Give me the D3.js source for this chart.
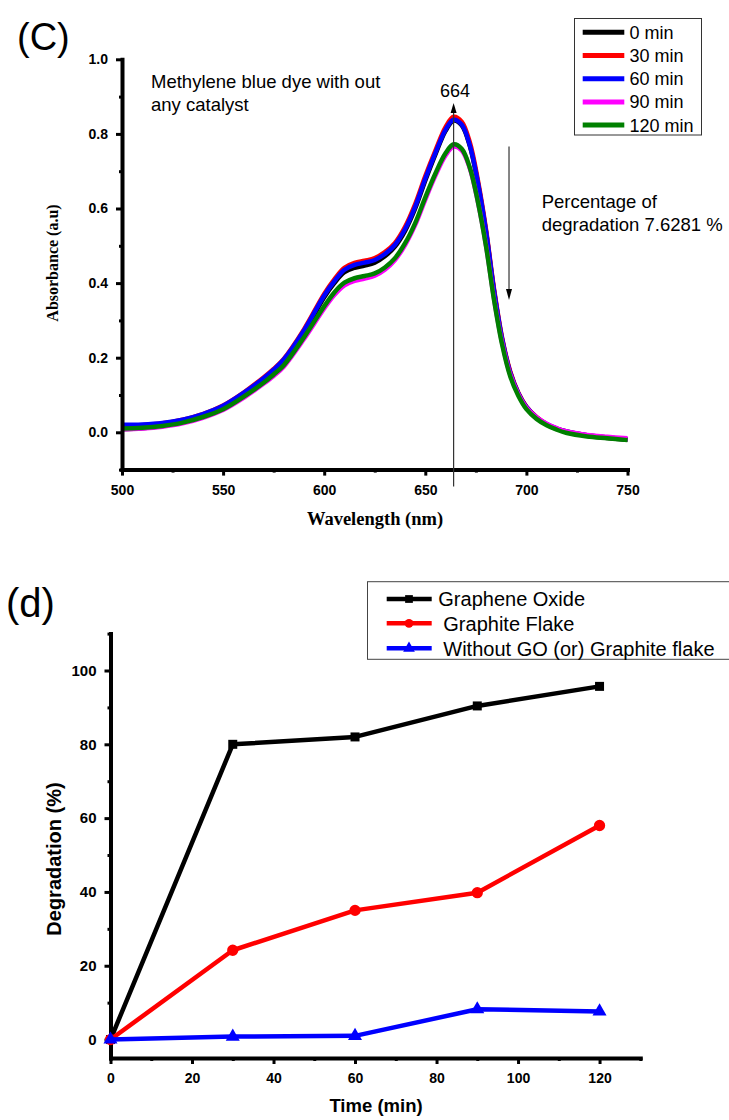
<!DOCTYPE html>
<html><head><meta charset="utf-8">
<script src="https://cdn.jsdelivr.net/npm/d3@7"></script>
<style>body{margin:0;background:#fff} svg{display:block}</style>
</head><body>
<svg id="c" width="729" height="1120"></svg>
<script>
// ---------- Panel (C): UV-vis spectra ----------
const wavelengths = [500,510,520,530,540,550,560,570,575,580,590,600,605,610,615,620,625,630,635,640,645,650,655,660,664,668,672,676,680,684,688,692,696,700,705,710,715,720,730,740,750];
const abs0min   = [0.008,0.011,0.017,0.027,0.043,0.066,0.100,0.141,0.164,0.190,0.268,0.362,0.400,0.429,0.441,0.447,0.455,0.472,0.498,0.540,0.600,0.675,0.745,0.808,0.836,0.823,0.768,0.668,0.538,0.378,0.248,0.160,0.104,0.067,0.039,0.021,0.009,0.001,-0.009,-0.015,-0.020];
const abs30min  = [0.017,0.019,0.024,0.034,0.049,0.072,0.106,0.147,0.170,0.197,0.276,0.371,0.410,0.441,0.454,0.460,0.467,0.483,0.508,0.551,0.612,0.687,0.755,0.818,0.846,0.833,0.778,0.676,0.545,0.384,0.253,0.163,0.106,0.069,0.041,0.022,0.010,0.002,-0.008,-0.014,-0.019];
const abs60min  = [0.020,0.021,0.025,0.034,0.049,0.071,0.105,0.145,0.168,0.195,0.273,0.367,0.405,0.436,0.449,0.455,0.462,0.478,0.503,0.545,0.605,0.680,0.749,0.811,0.838,0.825,0.770,0.670,0.540,0.380,0.250,0.160,0.105,0.068,0.040,0.022,0.010,0.002,-0.008,-0.014,-0.019];
const abs90min  = [0.008,0.010,0.015,0.024,0.039,0.060,0.092,0.130,0.151,0.176,0.250,0.332,0.368,0.394,0.406,0.412,0.420,0.436,0.462,0.502,0.556,0.624,0.688,0.742,0.766,0.756,0.708,0.618,0.502,0.358,0.240,0.155,0.102,0.066,0.040,0.023,0.011,0.002,-0.007,-0.012,-0.016];
const abs120min = [0.010,0.012,0.017,0.026,0.041,0.062,0.095,0.133,0.155,0.180,0.255,0.338,0.375,0.401,0.413,0.419,0.426,0.442,0.467,0.507,0.561,0.630,0.694,0.748,0.772,0.760,0.710,0.618,0.500,0.355,0.235,0.150,0.098,0.062,0.036,0.019,0.007,-0.002,-0.011,-0.016,-0.021];
const spectraNames  = ["0 min","30 min","60 min","90 min","120 min"];
const spectraColors = ["#000000","#ff0000","#0000ff","#ff00ff","#008000"];
const xTicksTop = [500,550,600,650,700,750];
const xMinorTop = [525,575,625,675,725];
const yTicksTop = [0.0,0.2,0.4,0.6,0.8,1.0];
const yMinorTop = [-0.1,0.1,0.3,0.5,0.7,0.9];
const peakWavelength = 664;
const peakLineRange = [0.856,-0.145];
const degradationArrow = {wl:691.4, from:0.766, to:0.355};

// ---------- Panel (d): degradation vs time ----------
const times = [0,30,60,90,120];
const degGO   = [0,80.0,82.0,90.4,95.7];
const degGF   = [0,24.2,35.0,39.8,58.0];
const degNone = [0,0.8,1.0,8.2,7.63];
const degNames  = ["Graphene Oxide","Graphite Flake","Without GO (or) Graphite flake"];
const degColors = ["#000000","#ff0000","#0000ff"];
const degSymbols = [d3.symbolSquare, d3.symbolCircle, d3.symbolTriangle];
const xTicksBottom = [0,20,40,60,80,100,120];
const xMinorBottom = [10,30,50,70,90,110,130];
const yTicksBottom = [0,20,40,60,80,100];
const yMinorBottom = [10,30,50,70,90,110];

const SANS = "'Liberation Sans', Arial, Helvetica, sans-serif";
const SERIF = "'Liberation Serif', 'Times New Roman', serif";
const svg = d3.select("#c");

function styleAxis(g, fs){
  g.select(".domain").attr("stroke","#000").attr("stroke-width",4).attr("stroke-linecap","square");
  g.selectAll(".tick line").attr("stroke","#000").attr("stroke-width",3);
  g.selectAll(".tick text").attr("fill","#000").attr("font-family",SANS)
    .attr("font-weight","bold").attr("font-size",fs);
}

// ======== TOP PANEL ========
const x1 = d3.scaleLinear().domain([500,750]).range([122,627.5]);
const y1 = d3.scaleLinear().domain([-0.1,1.0]).range([469.6,59.3]);
const topG = svg.append("g");

const spectra = [abs0min,abs30min,abs60min,abs90min,abs120min];
const line1 = d3.line().x(d=>x1(d[0])).y(d=>y1(d[1])).curve(d3.curveCatmullRom.alpha(0.5));
spectra.forEach((s,i)=>{
  topG.append("path").datum(wavelengths.map((w,j)=>[w,s[j]]))
    .attr("d",line1).attr("fill","none").attr("stroke",spectraColors[i])
    .attr("stroke-width",4.5).attr("stroke-linejoin","round");
});

// axes
const gx1 = topG.append("g").attr("transform",`translate(0,${y1(-0.1)})`)
  .call(d3.axisBottom(x1).tickValues(xTicksTop).tickSize(6).tickSizeOuter(0).tickPadding(8).tickFormat(d3.format("d")));
styleAxis(gx1,14);
gx1.selectAll(".tick text").attr("y",25).attr("dy",0);
topG.append("g").attr("transform",`translate(0,${y1(-0.1)})`)
  .call(d3.axisBottom(x1).tickValues(xMinorTop).tickSize(3).tickFormat(""))
  .call(g=>{g.select(".domain").remove();g.selectAll(".tick line").attr("stroke","#000").attr("stroke-width",3);});
const gy1 = topG.append("g").attr("transform",`translate(${x1(500)},0)`)
  .call(d3.axisLeft(y1).tickValues(yTicksTop).tickSize(6).tickSizeOuter(0).tickPadding(8).tickFormat(d3.format(".1f")));
styleAxis(gy1,14);
topG.append("g").attr("transform",`translate(${x1(500)},0)`)
  .call(d3.axisLeft(y1).tickValues(yMinorTop).tickSize(3).tickFormat(""))
  .call(g=>{g.select(".domain").remove();g.selectAll(".tick line").attr("stroke","#000").attr("stroke-width",3);});

// axis titles
topG.append("text").attr("x",375).attr("y",525).attr("text-anchor","middle")
  .attr("font-family",SERIF).attr("font-weight","bold").attr("font-size",18.5).text("Wavelength (nm)");
topG.append("text").attr("transform","translate(58,263) rotate(-90)").attr("text-anchor","middle")
  .attr("font-family",SERIF).attr("font-weight","bold").attr("font-size",16).text("Absorbance (a.u)");

// peak line + arrow
const px = x1(peakWavelength);
topG.append("line").attr("x1",px).attr("x2",px).attr("y1",y1(peakLineRange[0])).attr("y2",y1(peakLineRange[1]))
  .attr("stroke","#333").attr("stroke-width",1.2);
const ptop = y1(peakLineRange[0]);
topG.append("path").attr("d",`M${px},${ptop-10} L${px-3},${ptop} L${px+3},${ptop} Z`).attr("fill","#000");
topG.append("text").attr("x",px+1.5).attr("y",96.7).attr("text-anchor","middle")
  .attr("font-family",SANS).attr("font-size",18).text(String(peakWavelength));

// degradation arrow
const ax = x1(degradationArrow.wl), ay0 = y1(degradationArrow.from), ay1 = y1(degradationArrow.to);
topG.append("line").attr("x1",ax).attr("x2",ax).attr("y1",ay0).attr("y2",ay1-9)
  .attr("stroke","#333").attr("stroke-width",1.2);
topG.append("path").attr("d",`M${ax},${ay1} L${ax-3},${ay1-11} L${ax+3},${ay1-11} Z`).attr("fill","#000");

// annotations text
const ann = topG.append("g").attr("font-family",SANS).attr("font-size",18.5).attr("fill","#000");
ann.append("text").attr("x",151).attr("y",88.3).text("Methylene blue dye with out");
ann.append("text").attr("x",151).attr("y",111).text("any catalyst");
ann.append("text").attr("x",541.7).attr("y",208.3).text("Percentage of");
ann.append("text").attr("x",541.7).attr("y",230.5).text("degradation 7.6281 %");
svg.append("text").attr("x",17).attr("y",50).attr("font-family",SANS).attr("font-size",38).text("(C)");

// legend top
const lg1 = topG.append("g");
lg1.append("rect").attr("x",574.5).attr("y",18.5).attr("width",127).attr("height",116.5)
  .attr("fill","#fff").attr("stroke","#333").attr("stroke-width",1);
spectraNames.forEach((n,i)=>{
  const yy = 32.3 + i*23.2;
  lg1.append("line").attr("x1",582.7).attr("x2",624.3).attr("y1",yy).attr("y2",yy)
    .attr("stroke",spectraColors[i]).attr("stroke-width",5);
  lg1.append("text").attr("x",629.5).attr("y",yy+6.5).attr("font-family",SANS).attr("font-size",18).text(n);
});

// ======== BOTTOM PANEL ========
const x2 = d3.scaleLinear().domain([0,130]).range([110.5,640.3]);
const y2 = d3.scaleLinear().domain([-5,110]).range([1058,633.6]);
const botG = svg.append("g");

const gx2 = botG.append("g").attr("transform",`translate(0,${y2(-5)})`)
  .call(d3.axisBottom(x2).tickValues(xTicksBottom).tickSize(6).tickSizeOuter(0).tickFormat(d3.format("d")));
styleAxis(gx2,14);
gx2.selectAll(".tick text").attr("y",24.5).attr("dy",0);
botG.append("g").attr("transform",`translate(0,${y2(-5)})`)
  .call(d3.axisBottom(x2).tickValues(xMinorBottom).tickSize(3).tickFormat(""))
  .call(g=>{g.select(".domain").remove();g.selectAll(".tick line").attr("stroke","#000").attr("stroke-width",3);});
const gy2 = botG.append("g").attr("transform",`translate(${x2(0)},0)`)
  .call(d3.axisLeft(y2).tickValues(yTicksBottom).tickSize(6).tickSizeOuter(0).tickPadding(8).tickFormat(d3.format("d")));
styleAxis(gy2,15);
botG.append("g").attr("transform",`translate(${x2(0)},0)`)
  .call(d3.axisLeft(y2).tickValues(yMinorBottom).tickSize(3).tickFormat(""))
  .call(g=>{g.select(".domain").remove();g.selectAll(".tick line").attr("stroke","#000").attr("stroke-width",3);});

const degSeries = [degGO,degGF,degNone];
const line2 = d3.line().x(d=>x2(d[0])).y(d=>y2(d[1]));
degSeries.forEach((s,i)=>{
  const pts = times.map((t,j)=>[t,s[j]]);
  botG.append("path").datum(pts).attr("d",line2).attr("fill","none")
    .attr("stroke",degColors[i]).attr("stroke-width",4.5).attr("stroke-linejoin","round");
  const sym = d3.symbol().type(degSymbols[i]).size(i===0?81:(i===1?100:85));
  botG.selectAll(null).data(pts).enter().append("path")
    .attr("transform",d=>`translate(${x2(d[0])},${y2(d[1])})`).attr("d",sym).attr("fill",degColors[i]);
});

botG.append("text").attr("x",376).attr("y",1112).attr("text-anchor","middle")
  .attr("font-family",SANS).attr("font-weight","bold").attr("font-size",18.5).text("Time (min)");
botG.append("text").attr("transform","translate(61,859) rotate(-90)").attr("text-anchor","middle")
  .attr("font-family",SANS).attr("font-weight","bold").attr("font-size",20).text("Degradation (%)");
svg.append("text").attr("x",6).attr("y",617).attr("font-family",SANS).attr("font-size",40).text("(d)");

// legend bottom
const lg2 = botG.append("g");
lg2.append("rect").attr("x",367.5).attr("y",581.7).attr("width",370).attr("height",77.6)
  .attr("fill","#fff").attr("stroke","#444").attr("stroke-width",1);
degNames.forEach((n,i)=>{
  const yy = [599,623.3,648.3][i];
  lg2.append("line").attr("x1",386.7).attr("x2",431.7).attr("y1",yy).attr("y2",yy)
    .attr("stroke",degColors[i]).attr("stroke-width",4.5);
  lg2.append("path").attr("transform",`translate(409,${yy})`)
    .attr("d",d3.symbol().type(degSymbols[i]).size(60)).attr("fill",degColors[i]);
  lg2.append("text").attr("x",i===0?438.3:443.3).attr("y",yy+7.2)
    .attr("font-family",SANS).attr("font-size",20).text(n);
});
</script>
</body></html>
